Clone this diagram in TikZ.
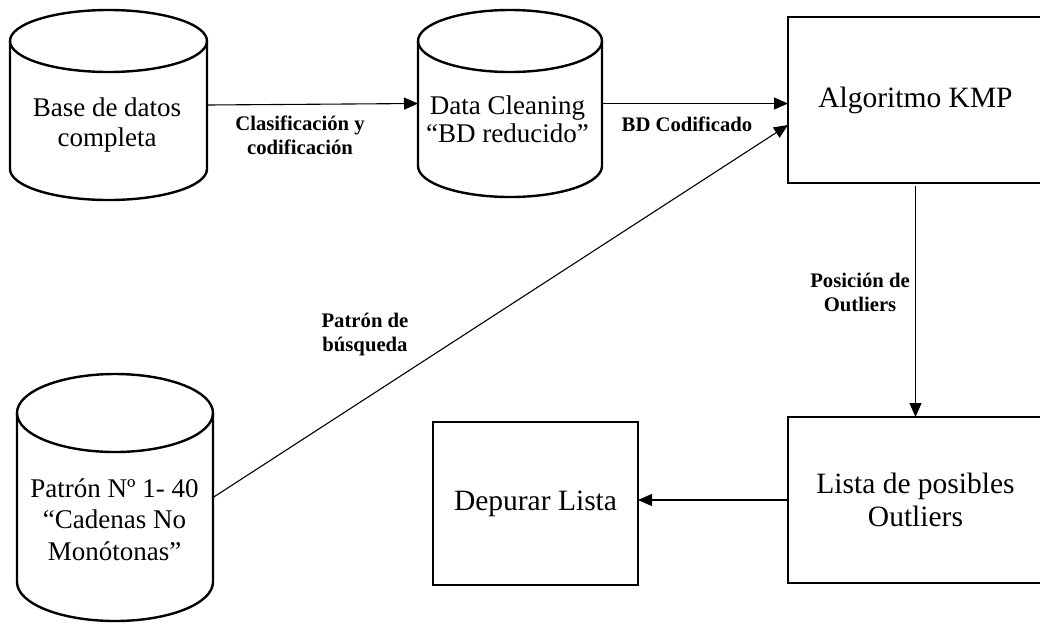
\documentclass[tikz,border=0pt]{standalone}
\usepackage{fontspec}
\setmainfont{Liberation Serif}
\usetikzlibrary{arrows.meta,calc}
\begin{document}
\begin{tikzpicture}[x=1pt,y=1pt,yscale=-1,
  dbline/.style={line width=2.4pt, line join=round},
  conn/.style={line width=1.1pt, -{Triangle[length=14pt,width=12pt]}},
  dbtext/.style={font=\fontsize{27}{30}\selectfont, align=center, inner sep=0pt},
  boxtext/.style={font=\fontsize{29.5}{33}\selectfont, align=center},
  lbl/.style={font=\bfseries\fontsize{20.7}{24}\selectfont, align=center, inner sep=0pt},
  procbox/.style={draw, line width=2.4pt, inner sep=0pt, outer sep=0pt},
  dbbody/.style={inner sep=0pt, outer sep=0pt}
]
% canvas
\fill[white] (0,0) rectangle (1040,622);
\useasboundingbox (0,0) rectangle (1040,622);

% database cylinders (body node + outline)
\node[dbbody, minimum width=197pt, minimum height=128pt] (c1) at (108.5,105) {};
\draw[dbline] (c1.north west) -- (c1.south west)
  arc[start angle=180, end angle=0, x radius=98.5, y radius=31] -- (c1.north east);
\draw[dbline] (c1.north) ellipse[x radius=98.5, y radius=31];

\node[dbbody, minimum width=184pt, minimum height=125pt] (c2) at (510,103.5) {};
\draw[dbline] (c2.north west) -- (c2.south west)
  arc[start angle=180, end angle=0, x radius=92, y radius=31] -- (c2.north east);
\draw[dbline] (c2.north) ellipse[x radius=92, y radius=31];

\node[dbbody, minimum width=196pt, minimum height=169pt] (c3) at (115,497.5) {};
\draw[dbline] (c3.north west) -- (c3.south west)
  arc[start angle=180, end angle=0, x radius=98, y radius=39] -- (c3.north east);
\draw[dbline] (c3.north) ellipse[x radius=98, y radius=39];

% cylinder captions
\node[dbtext] (t1) at (107,125) {Base de datos\\completa};
\node[dbtext, font=\fontsize{27}{27.5}\selectfont] (t2) at (507.5,119.5) {Data Cleaning\\“BD reducido”};
\node[dbtext, font=\fontsize{27}{31.5}\selectfont] (t3) at (114.5,519.3) {Patrón Nº 1- 40\\“Cadenas No\\Monótonas”};

% process boxes
\node[procbox, boxtext, minimum width=255pt, minimum height=166pt] (kmp) at (915.5,100) {Algoritmo KMP};
\node[procbox, boxtext, minimum width=255pt, minimum height=166pt] (lista) at (915.5,500) {Lista de posibles\\Outliers};
\node[procbox, boxtext, minimum width=205pt, minimum height=163pt] (dep) at (535.5,503.5) {Depurar Lista};

% connectors
\draw[conn] (c1.east) -- (c2.west);
\draw[conn] (c2.east) -- (c2.east -| kmp.west);
\draw[conn] (c3.east) -- ($(kmp.west)+(0,25)$);
\draw[conn, shorten <=3pt] (kmp.south) -- (lista.north);
\draw[conn] (lista.west) -- (lista.west -| dep.east);

% connector labels
\node[lbl] (l1) at (300,135) {Clasificación y\\codificación};
\node[lbl] (l2) at (687,124) {BD Codificado};
\node[lbl] (l3) at (365,335) {Patrón de\\búsqueda};
\node[lbl] (l4) at (860,292) {Posición de\\Outliers};
\end{tikzpicture}
\end{document}
